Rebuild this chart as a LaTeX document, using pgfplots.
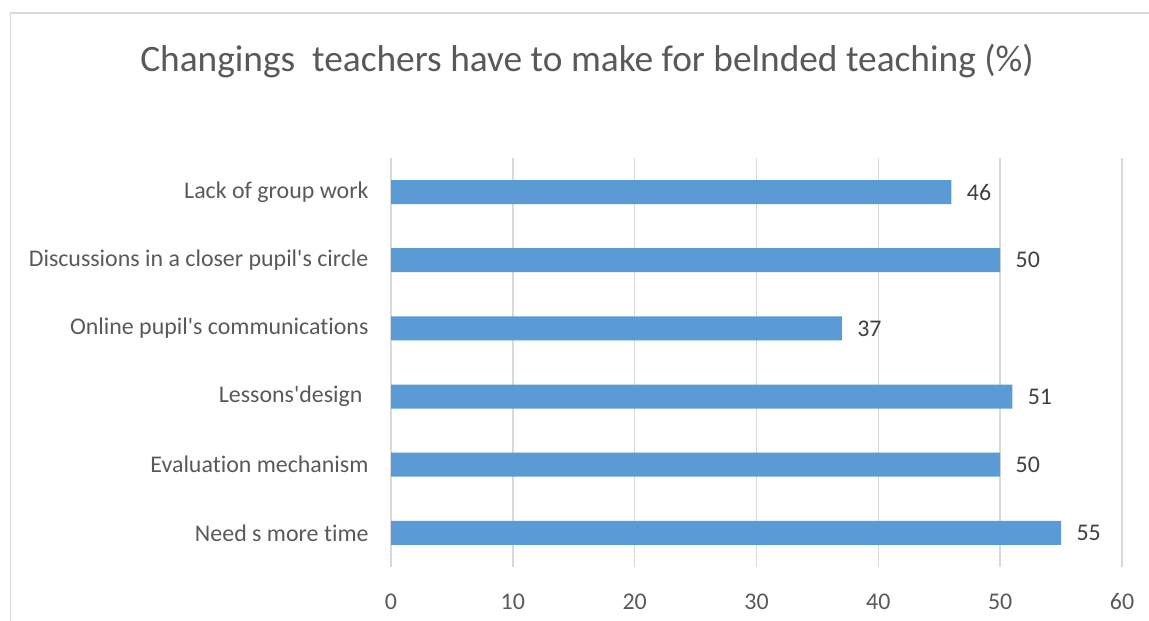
\documentclass[border=0pt]{standalone}
\usepackage{fontspec}
\setmainfont[Ligatures=NoCommon]{Carlito}
\usepackage{pgfplots}
\pgfplotsset{compat=1.18}
\definecolor{barblue}{HTML}{5B9BD5}
\definecolor{txtgray}{HTML}{595959}
\definecolor{lblgray}{HTML}{404040}
\definecolor{gridgray}{HTML}{D9D9D9}
\begin{document}
\begin{tikzpicture}
\useasboundingbox (0bp,0bp) rectangle (1149bp,621bp);
\draw[gridgray, line width=1.5bp] (10.5bp,-5bp) -- (10.5bp,608bp) -- (1160bp,608bp);
\node[txtgray, font=\fontsize{37.5}{44}\selectfont] at (587bp,560bp) {Changings\ \ teachers have to make for belnded teaching (\%)};
\begin{axis}[
  at={(391bp,54bp)}, anchor=south west,
  scale only axis, width=731bp, height=409bp,
  xmin=0, xmax=60, ymin=-0.5, ymax=5.5,
  xtick={0,10,...,60},
  ytick={0,...,5},
  yticklabels={Need s more time, Evaluation mechanism, Lessons\textquotesingle design\hspace*{6bp}, Online pupil\textquotesingle s communications, Discussions in a closer pupil\textquotesingle s circle, Lack of group work},
  xmajorgrids, grid style={gridgray, line width=1.6bp},
  axis line style={draw=none},
  axis y line*=left,
  y axis line style={draw=gridgray, line width=1.6bp},
  major tick length=0pt,
  tick style={draw=none},
  /pgf/number format/assume math mode=true,
  ticklabel style={txtgray, font=\fontsize{24}{28}\selectfont},
  xticklabel style={yshift=-23bp},
  yticklabel style={xshift=-19bp},
  xbar, bar width=24bp,
  nodes near coords,
  every node near coord/.append style={lblgray, font=\fontsize{24}{28}\selectfont, xshift=12bp},
  clip=false,
]
\addplot[fill=barblue, draw=none] coordinates {(55,0) (50,1) (51,2) (37,3) (50,4) (46,5)};
\end{axis}
\end{tikzpicture}
\end{document}
